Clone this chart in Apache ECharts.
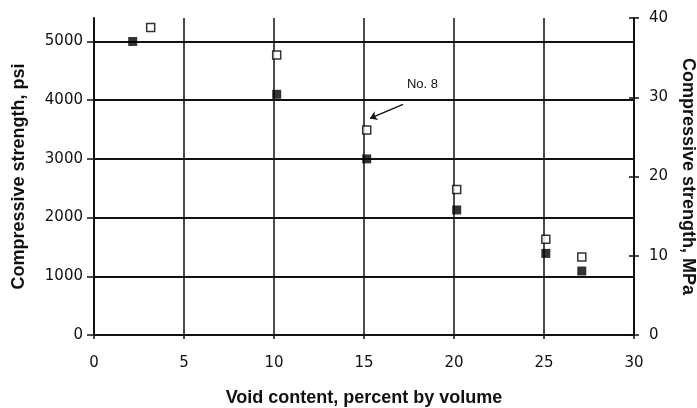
<!DOCTYPE html>
<html>
<head>
<meta charset="utf-8">
<script src="https://cdn.jsdelivr.net/npm/echarts@6/dist/echarts.min.js"></script>
<style>html,body{margin:0;padding:0;background:#fff}#c{width:697px;height:408px}</style>
</head>
<body>
<div id="c"></div>
<script>
// Data (void content %, compressive strength psi)
const openX = [3.15, 10.15, 15.15, 20.15, 25.1, 27.1];
const openPsi = [5240, 4770, 3490, 2480, 1630, 1330];
const filledX = [2.15, 10.15, 15.15, 20.15, 25.1, 27.1];
const filledPsi = [5000, 4100, 3000, 2130, 1390, 1090];
const xTicks = [0, 5, 10, 15, 20, 25, 30];
const psiTicks = [0, 1000, 2000, 3000, 4000, 5000];
const mpaTicks = [0, 10, 20, 30, 40];
const noteLabel = 'No. 8';
const noteText = [18.25, 4270];
const noteArrowFrom = [17.17, 3930];
const noteArrowTo = [15.33, 3690];

const ink = '#111';
const tickFont = {color: ink, fontFamily: 'DejaVu Sans, sans-serif', fontSize: 15};
const nameFont = {color: ink, fontFamily: 'Liberation Sans, Arial, sans-serif', fontSize: 18, fontWeight: 'bold'};
const plain = v => String(v);

const chart = echarts.init(document.getElementById('c'), null, {renderer: 'canvas'});
chart.setOption({
  backgroundColor: '#fff',
  animation: false,
  grid: {left: 94, right: 63, top: 18, bottom: 73, containLabel: false, outerBoundsMode: 'none'},
  xAxis: {
    type: 'value', min: 0, max: 30, interval: 5,
    name: 'Void content, percent by volume', nameLocation: 'middle', nameGap: 54,
    nameTextStyle: nameFont,
    axisLine: {show: true, lineStyle: {color: ink, width: 2}},
    axisTick: {show: true, length: 4, lineStyle: {color: ink, width: 1.5}},
    axisLabel: Object.assign({margin: 21, customValues: xTicks, formatter: plain}, tickFont),
    splitLine: {show: true, lineStyle: {color: ink, width: 1.5}}
  },
  yAxis: [
    {
      type: 'value', min: 0, max: 5400, interval: 1000, position: 'left',
      name: 'Compressive strength, psi', nameLocation: 'middle', nameGap: 66,
      nameTextStyle: nameFont,
      axisLine: {show: true, lineStyle: {color: ink, width: 2}},
      axisTick: {show: true, length: 7, customValues: psiTicks, lineStyle: {color: ink, width: 1.5}},
      axisLabel: Object.assign({margin: 11, customValues: psiTicks, formatter: plain}, tickFont),
      splitLine: {show: true, showMinLine: false, lineStyle: {color: ink, width: 2}}
    },
    {
      type: 'value', min: 0, max: 40, interval: 10, position: 'right',
      name: 'Compressive strength, MPa', nameLocation: 'middle', nameGap: 45, nameRotate: -90,
      nameTextStyle: nameFont,
      axisLine: {show: true, lineStyle: {color: ink, width: 2}},
      axisTick: {show: true, length: 5, customValues: mpaTicks, lineStyle: {color: ink, width: 1.5}},
      axisLabel: Object.assign({margin: 15, customValues: mpaTicks, formatter: plain}, tickFont),
      splitLine: {show: false}
    },
    {
      type: 'value', min: 0, max: 40, interval: 10, position: 'right',
      axisLine: {show: false},
      axisTick: {show: true, inside: true, length: 5, customValues: mpaTicks, lineStyle: {color: ink, width: 1.5}},
      axisLabel: {show: false},
      splitLine: {show: false}
    }
  ],
  series: [
    {
      name: 'filled', type: 'scatter', yAxisIndex: 0, symbol: 'rect', symbolSize: 9,
      itemStyle: {color: '#000'},
      data: filledX.map((x, i) => [x, filledPsi[i]])
    },
    {
      name: 'open', type: 'scatter', yAxisIndex: 0, symbol: 'rect', symbolSize: 8,
      itemStyle: {color: '#fff', borderColor: '#000', borderWidth: 1.5},
      data: openX.map((x, i) => [x, openPsi[i]]),
      markLine: {
        silent: true, animation: false,
        symbol: ['none', 'arrow'], symbolSize: 7,
        lineStyle: {color: ink, width: 1.3, type: 'solid'},
        label: {show: false},
        data: [[{coord: noteArrowFrom}, {coord: noteArrowTo}]]
      },
      markPoint: {
        silent: true, symbol: 'circle', symbolSize: 1,
        itemStyle: {color: 'rgba(0,0,0,0)'},
        label: {show: true, formatter: noteLabel, color: ink, fontFamily: 'Liberation Sans, Arial, sans-serif', fontSize: 13, position: 'inside'},
        data: [{coord: noteText}]
      }
    }
  ]
});
</script>
</body>
</html>
